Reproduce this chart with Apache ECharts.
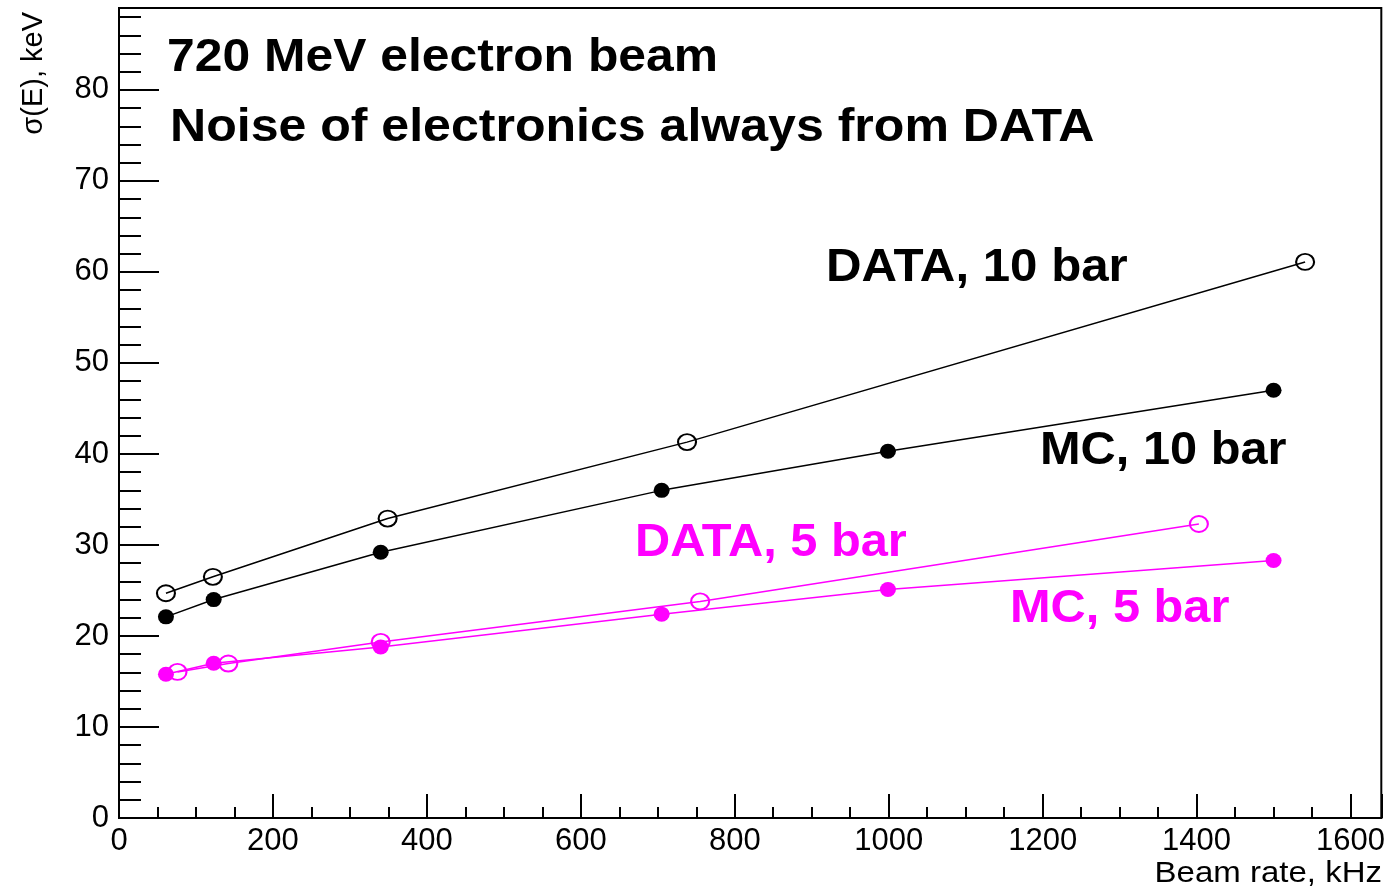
<!DOCTYPE html>
<html>
<head>
<meta charset="utf-8">
<title>sigma(E) vs beam rate</title>
<script src="https://cdn.jsdelivr.net/npm/echarts@6/dist/echarts.min.js"></script>
<style>
  html, body { margin: 0; padding: 0; background: #fff; }
  #chart { width: 1388px; height: 890px; }
</style>
</head>
<body>
<div id="chart"></div>
<script>
// points (beam rate kHz, sigma keV)
var data10X = [61, 122, 349, 738, 1541];
var data10Y = [24.7, 26.5, 32.9, 41.3, 61.1];
var mc10X = [61, 123, 340, 705, 999, 1500];
var mc10Y = [22.1, 24.0, 29.2, 36.0, 40.3, 47.0];
var data5X = [76, 142, 340, 755, 1403];
var data5Y = [16.05, 16.97, 19.35, 23.8, 32.3];
var mc5X = [61, 123, 340, 705, 999, 1500];
var mc5Y = [15.8, 17.0, 18.8, 22.4, 25.1, 28.3];

var FONT = "'Liberation Sans', Arial, Helvetica, sans-serif";
var MAGENTA = '#ff00ff';

function pairs(xs, ys) {
    var out = [];
    for (var i = 0; i < xs.length; i++) out.push([xs[i], ys[i]]);
    return out;
}

function makeSeries(name, xs, ys, color, open) {
    return {
        name: name,
        type: 'line',
        data: pairs(xs, ys),
        symbol: 'circle',
        symbolSize: open ? [18, 16] : [16, 15],
        showAllSymbol: true,
        lineStyle: { color: color, width: 1.5 },
        itemStyle: open
            ? { color: 'rgba(0,0,0,0)', borderColor: color, borderWidth: 2 }
            : { color: color, borderWidth: 0 },
        emphasis: { disabled: true },
        silent: true
    };
}

// big annotation text, slightly widened like the source picture
function label(text, x, y, size, color, sx) {
    return {
        type: 'text',
        x: x,
        y: y,
        scaleX: sx,
        style: {
            text: text,
            fill: color,
            font: 'bold ' + size + 'px ' + FONT,
            textAlign: 'left',
            textVerticalAlign: 'middle'
        }
    };
}

function plain(v) { return String(v); }

var myChart = echarts.init(document.getElementById('chart'));

var option = {
    animation: false,
    backgroundColor: '#fff',
    grid: {
        left: 119, right: 6, top: 8, bottom: 72,
        show: true, borderColor: '#000', borderWidth: 2
    },
    xAxis: {
        type: 'value',
        min: 0, max: 1640, interval: 200,
        splitLine: { show: false },
        axisLine: { show: true, lineStyle: { color: '#000', width: 2 } },
        axisTick: { show: true, inside: true, length: 24, lineStyle: { color: '#000', width: 2 } },
        minorTick: { show: true, splitNumber: 4, length: 11, lineStyle: { color: '#000', width: 2 } },
        axisLabel: { color: '#000', fontSize: 31, fontFamily: FONT, margin: 8, showMaxLabel: false, formatter: plain }
    },
    yAxis: {
        type: 'value',
        min: 0, max: 89, interval: 10,
        splitLine: { show: false },
        axisLine: { show: true, lineStyle: { color: '#000', width: 2 } },
        axisTick: { show: true, inside: true, length: 40, lineStyle: { color: '#000', width: 2 } },
        minorTick: { show: true, splitNumber: 5, length: 22, lineStyle: { color: '#000', width: 2 } },
        axisLabel: { color: '#000', fontSize: 31, fontFamily: FONT, margin: 10, showMaxLabel: false, formatter: plain }
    },
    series: [
        makeSeries('DATA, 10 bar', data10X, data10Y, '#000', true),
        makeSeries('MC, 10 bar', mc10X, mc10Y, '#000', false),
        makeSeries('DATA, 5 bar', data5X, data5Y, MAGENTA, true),
        makeSeries('MC, 5 bar', mc5X, mc5Y, MAGENTA, false)
    ],
    graphic: [
        label('720 MeV electron beam', 167, 58, 47, '#000', 1.06),
        label('Noise of electronics always from DATA', 170, 128, 47, '#000', 1.065),
        label('DATA, 10 bar', 826, 268, 46, '#000', 1.07),
        label('MC, 10 bar', 1040, 451, 46, '#000', 1.06),
        label('DATA, 5 bar', 635, 543, 46, MAGENTA, 1.06),
        label('MC, 5 bar', 1010, 609, 46, MAGENTA, 1.06),
        {
            type: 'text',
            x: 1382, y: 874, scaleX: 1.1,
            style: {
                text: 'Beam rate, kHz', fill: '#000',
                font: '30px ' + FONT,
                textAlign: 'right', textVerticalAlign: 'middle'
            }
        },
        {
            type: 'text',
            x: 34, y: 12, rotation: Math.PI / 2,
            style: {
                text: 'σ(E), keV', fill: '#000',
                font: '29px ' + FONT,
                textAlign: 'right', textVerticalAlign: 'middle'
            }
        }
    ]
};
myChart.setOption(option);
</script>
</body>
</html>
